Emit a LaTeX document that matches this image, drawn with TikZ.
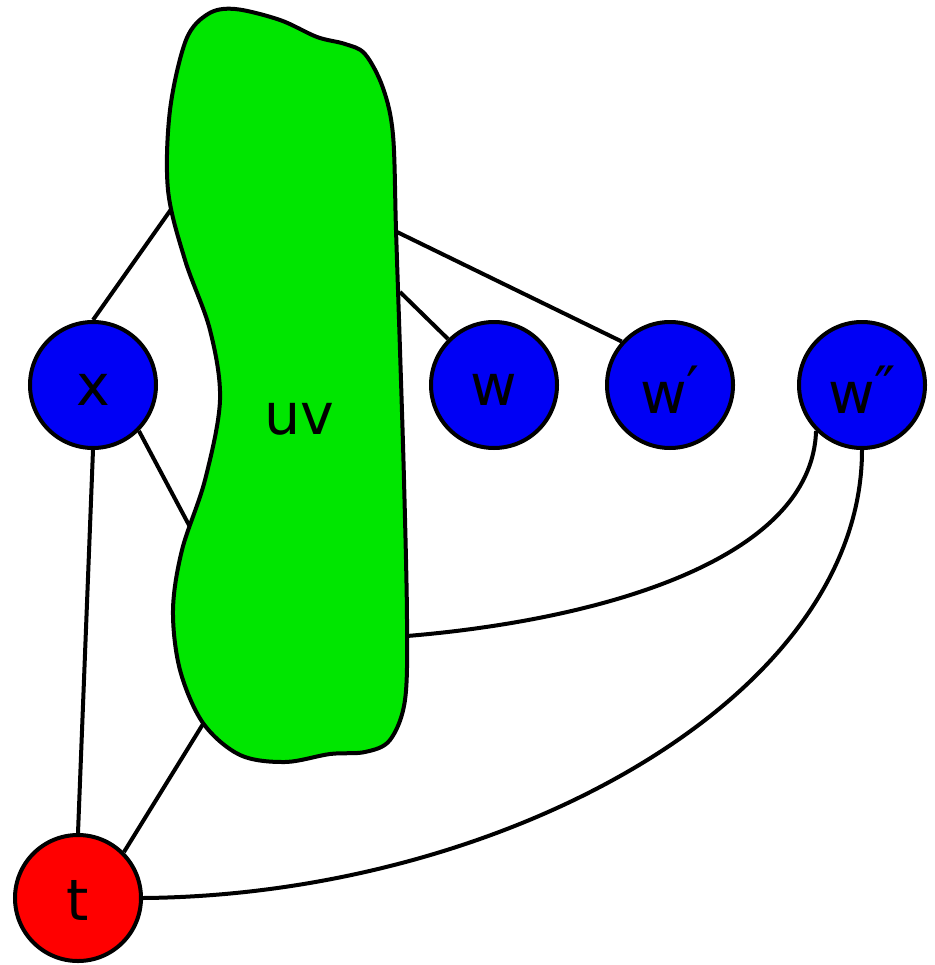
\documentclass[tikz,border=0pt]{standalone}
\usepackage{fontspec}
\setmainfont{DejaVu Sans}
\begin{document}
\begin{tikzpicture}[x=1pt,y=-1pt,
  lbl/.style={font=\fontsize{57}{60}\selectfont},
  vtx/.style={circle,draw=black,line width=4pt,minimum size=126pt,inner sep=0pt},
  bluevtx/.style={vtx,fill=vblue},
  redvtx/.style={vtx,fill=vred},
  edge/.style={draw=black,line width=4pt},
  blob/.style={draw=black,line width=4pt,fill=bgreen,line join=round}]
\definecolor{vblue}{RGB}{0,0,245}
\definecolor{vred}{RGB}{255,0,0}
\definecolor{bgreen}{RGB}{0,230,0}
\useasboundingbox (0,0) rectangle (934,965);

% points on the outline of the uv region where edges attach
\coordinate (bxa) at (172,208);
\coordinate (bxb) at (190,527);
\coordinate (bt)  at (203,724);
\coordinate (bw)  at (400,292);
\coordinate (bw1) at (397,232);
\coordinate (bw2) at (407,636);

% vertices
\node[bluevtx] (x)  at (93,385)  {};
\node[bluevtx] (w)  at (494,385) {};
\node[bluevtx] (w1) at (670,385) {};
\node[bluevtx] (w2) at (862,385) {};
\node[redvtx]  (t)  at (78,898)  {};

% vertex labels, set a little below the centres
\node[lbl] (lx)  at (93,390)  {x};
\node[lbl] (lw)  at (494,390) {w};
\node[lbl] (lw1) at (670,390) {w\raisebox{0.1em}{′}};
\node[lbl] (lw2) at (862,390) {w\raisebox{0.1em}{″}};
\node[lbl] (lt)  at (78,900)  {t};

% edges
\draw[edge] (x.north) -- (bxa);
\draw[edge] (x.south east) -- (bxb);
\draw[edge] (x.south) -- (t.north);
\draw[edge] (t.north east) -- (bt);
\draw[edge] (w.north west) -- (bw);
\draw[edge] (w1.138) -- (bw1);
\draw[edge] (w2.south west) .. controls (812,560) and (600,620) .. (bw2);
\draw[edge] (t.east) .. controls (500,895) and (862,700) .. (w2.south);

% the contracted uv region
\path[blob] plot[smooth cycle,tension=0.55] coordinates {
  (235,9) (280,20) (317,37) (345,44) (365,54) (383,88) (393,135)
  (396,230) (400,350) (404,480) (407,620) (405,700) (390,740)
  (365,752) (330,754) (285,762) (240,755) (203,723) (180,670)
  (173,610) (182,550) (205,480) (220,400) (210,330) (185,260)
  (168,190) (170,110) (186,40) (208,14)};
\node[lbl] (uv) at (299,419) {uv};
\end{tikzpicture}
\end{document}
